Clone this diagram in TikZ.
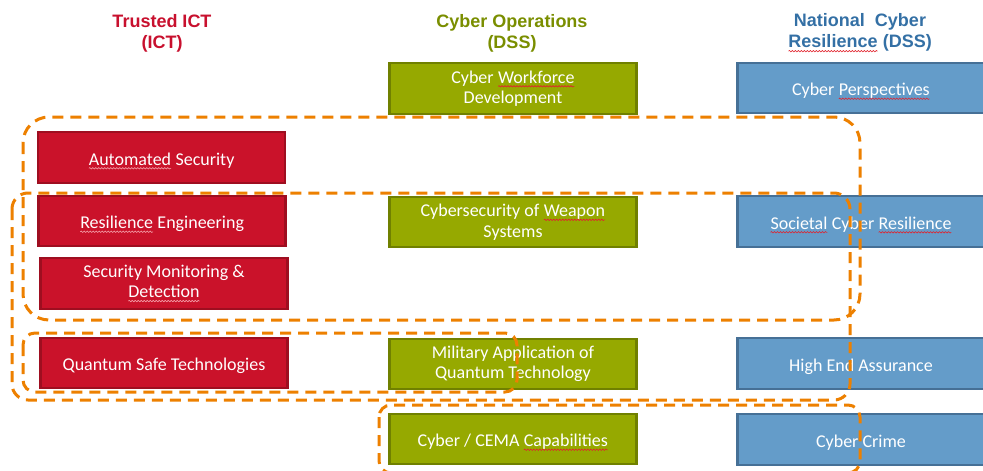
\documentclass[tikz,border=0pt]{standalone}
\usepackage{fontspec}
\usetikzlibrary{decorations.pathmorphing}
\newfontfamily\hdfont{Liberation Sans}
\newfontfamily\bxfont{Carlito}
\definecolor{rfill}{RGB}{202,18,42}
\definecolor{rline}{RGB}{158,14,32}
\definecolor{gfill}{RGB}{150,169,0}
\definecolor{gline}{RGB}{112,128,0}
\definecolor{bfill}{RGB}{100,156,201}
\definecolor{bline}{RGB}{70,112,150}
\definecolor{hred}{RGB}{200,16,46}
\definecolor{hgreen}{RGB}{122,142,0}
\definecolor{hblue}{RGB}{52,112,165}
\definecolor{dorange}{RGB}{237,128,0}
\definecolor{sqred}{RGB}{225,35,45}
\definecolor{sqpink}{RGB}{245,160,170}
\tikzset{sqline/.style={line width=0.6pt, decorate, decoration={snake, amplitude=0.7pt, segment length=3pt}}}
\newcommand{\sqgen}[2]{\tikz[baseline=(sqwt.base), x=1pt, y=1pt]{\node[inner sep=0pt, outer sep=0pt, draw=none, fill=none, minimum width=0pt, minimum height=0pt, anchor=base] (sqwt) at (0,0) {#2}; \draw[sqline, draw=#1] ([yshift=-3.3pt]sqwt.base west) -- ([yshift=-3.3pt]sqwt.base east);}}
\newcommand{\sqw}[1]{\sqgen{sqred}{#1}}
\newcommand{\sqwp}[1]{\sqgen{sqpink}{#1}}
\begin{document}
\begin{tikzpicture}[x=1pt,y=-1pt,
  hdr/.style={align=center, inner sep=0pt, font=\hdfont\bfseries\fontsize{18}{21}\selectfont},
  box/.style={rectangle, line width=2.4pt, minimum width=247pt, minimum height=50.5pt, inner sep=0pt, align=center, text=white, font=\bxfont\fontsize{18}{20.5}\selectfont},
  one/.style={text height=16pt, text depth=1pt},
  redbox/.style={box, fill=rfill, draw=rline},
  greenbox/.style={box, fill=gfill, draw=gline},
  bluebox/.style={box, fill=bfill, draw=bline},
  grp/.style={draw=dorange, line width=3pt, dash pattern=on 11pt off 7pt}]
\useasboundingbox (0,0) rectangle (983,471);
% headers
\node[hdr, text=hred] (hict) at (162,33) {Trusted ICT\\(ICT)};
\node[hdr, text=hgreen] (hops) at (512,33) {Cyber Operations\\(DSS)};
\node[hdr, text=hblue] (hncr) at (860,33) {National\ \ Cyber\\\sqw{Resilience} (DSS)};
% red column
\node[redbox, one] (auto) at (161.5,157.5) {\sqwp{Automated} Security};
\node[redbox, one] (resil) at (162,221) {\sqwp{Resilience} Engineering};
\node[redbox] (monit) at (164,283.5) {Security Monitoring \&\\\sqwp{Detection}};
\node[redbox, one] (qsafe) at (164,363) {Quantum Safe Technologies};
% green column
\node[greenbox] (work) at (513,88.5) {Cyber \sqw{Workforce}\\Development};
\node[greenbox] (weap) at (513,222) {Cybersecurity of \sqw{Weapon}\\Systems};
\node[greenbox] (milq) at (513,364) {Military Application of\\Quantum Technology};
\node[greenbox, one] (cema) at (513,439) {Cyber / CEMA \sqw{Capabilities}};
% blue column
\node[bluebox, one] (persp) at (861,88) {Cyber \sqw{Perspectives}};
\node[bluebox, one] (soc) at (861,221.5) {\sqw{Societal} Cyber \sqw{Resilience}};
\node[bluebox, one] (hea) at (861,363.5) {High End Assurance};
\node[bluebox, one] (crime) at (861,439.5) {Cyber Crime};
% dashed groupings
\draw[grp, rounded corners=26pt] (23,117) rectangle (860,320);
\draw[grp, rounded corners=16pt] (12,193) rectangle (850,400);
\draw[grp, rounded corners=12pt] (23,333) rectangle (517,392);
\draw[grp, rounded corners=12pt] (379,405) rectangle (860,473);
\end{tikzpicture}
\end{document}
